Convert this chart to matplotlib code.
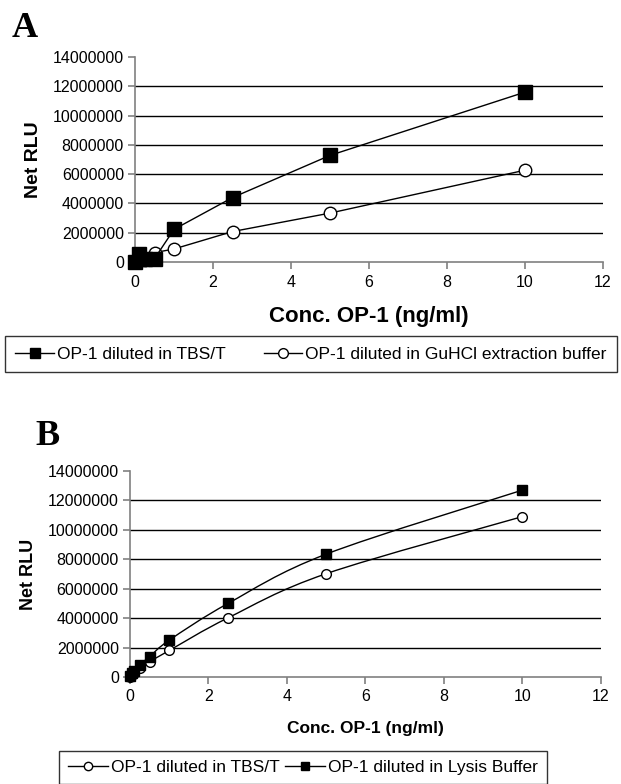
import matplotlib.pyplot as plt
import numpy as np
from matplotlib.lines import Line2D
from matplotlib.path import Path
from matplotlib.patches import PathPatch
from matplotlib.ticker import FuncFormatter

plt.rcParams['font.family'] = ['Liberation Sans', 'DejaVu Sans']

# panel A data
conc_a = [0, 0.1, 0.25, 0.5, 1, 2.5, 5, 10]
tbs_a = [0, 520000, 180000, 230000, 2230000, 4400000, 7280000, 11600000]
guhcl_a = [0, 50000, 150000, 640000, 890000, 2080000, 3340000, 6270000]

# panel B data
conc_b = [0, 0.05, 0.1, 0.25, 0.5, 1, 2.5, 5, 10]
tbs_b = [0, 120000, 250000, 600000, 1030000, 1800000, 4020000, 7020000, 10900000]
lysis_b = [80000, 250000, 400000, 830000, 1380000, 2500000, 5000000, 8350000, 12700000]

legend_a = ['OP-1 diluted in TBS/T', 'OP-1 diluted in GuHCl extraction buffer']
legend_b = ['OP-1 diluted in TBS/T', 'OP-1 diluted in Lysis Buffer']

fig = plt.figure(figsize=(6.21, 7.84), dpi=100)
ax_a = fig.add_axes([0.2174, 0.6658, 0.7536, 0.2615])
ax_b = fig.add_axes([0.2093, 0.1365, 0.7585, 0.2628])

grey = '#808080'


def style_axes(ax):
    ax.set_xlim(0, 12)
    ax.set_ylim(0, 14000000)
    ax.set_xticks(range(0, 13, 2))
    ax.set_yticks(range(0, 14000001, 2000000))
    ax.yaxis.set_major_formatter(FuncFormatter(lambda v, p: '%d' % v))
    for s in ['top', 'right']:
        ax.spines[s].set_visible(False)
    for s in ['left', 'bottom']:
        ax.spines[s].set_color(grey)
        ax.spines[s].set_linewidth(1.2)
    ax.tick_params(direction='out', length=5, width=1.2, color=grey,
                   labelsize=11.5, pad=3)
    ax.tick_params(axis='x', pad=4)
    for yv in range(2000000, 14000000, 2000000):
        ax.axhline(yv, color='black', lw=1, zorder=1)


def smooth_line(ax, xs, ys):
    # Excel-style smoothed curve: cubic bezier through the points
    pts = np.column_stack([xs, ys]).astype(float)
    verts = [tuple(pts[0])]
    codes = [Path.MOVETO]
    n = len(pts)
    for i in range(n - 1):
        p0 = pts[max(i - 1, 0)]
        p1 = pts[i]
        p2 = pts[i + 1]
        p3 = pts[min(i + 2, n - 1)]
        c1 = p1 + (p2 - p0) / 6
        c2 = p2 - (p3 - p1) / 6
        verts += [tuple(c1), tuple(c2), tuple(p2)]
        codes += [Path.CURVE4] * 3
    ax.add_patch(PathPatch(Path(verts, codes), fill=False, lw=1,
                           color='black', zorder=2, clip_on=False))


# Panel A
style_axes(ax_a)
ax_a.plot(conc_a, guhcl_a, color='black', lw=1, marker='o', ms=9,
          mfc='white', mec='black', clip_on=False, zorder=3)
ax_a.plot(conc_a, tbs_a, color='black', lw=1, marker='s', ms=9.5,
          mfc='black', mec='black', clip_on=False, zorder=4)
ax_a.set_xlabel('Conc. OP-1 (ng/ml)', fontsize=16, fontweight='bold', labelpad=12)
ax_a.set_ylabel('Net RLU', fontsize=14, fontweight='bold', labelpad=8)

h_a = [Line2D([], [], color='black', lw=1, marker='s', ms=7, mfc='black', mec='black'),
       Line2D([], [], color='black', lw=1, marker='o', ms=7, mfc='white', mec='black')]
leg_a = fig.legend(h_a, legend_a, loc='lower left', ncol=2, mode='expand',
                   bbox_to_anchor=(5 / 621, 1 - 372 / 784, 612 / 621, 37 / 784),
                   frameon=True, fancybox=False, edgecolor='black', fontsize=12.5,
                   handlelength=2.2, handletextpad=0.2, columnspacing=0.8,
                   borderpad=0.6, borderaxespad=0)
leg_a.get_frame().set_linewidth(1)

# Panel B
style_axes(ax_b)
smooth_line(ax_b, conc_b, tbs_b)
smooth_line(ax_b, conc_b, lysis_b)
ax_b.plot(conc_b, tbs_b, linestyle='none', marker='o', ms=7,
          mfc='white', mec='black', clip_on=False, zorder=3)
ax_b.plot(conc_b, lysis_b, linestyle='none', marker='s', ms=7,
          mfc='black', mec='black', clip_on=False, zorder=4)
ax_b.set_xlabel('Conc. OP-1 (ng/ml)', fontsize=12.5, fontweight='bold', labelpad=12)
ax_b.set_ylabel('Net RLU', fontsize=13, fontweight='bold', labelpad=8)

h_b = [Line2D([], [], color='black', lw=1, marker='o', ms=6, mfc='white', mec='black'),
       Line2D([], [], color='black', lw=1, marker='s', ms=6, mfc='black', mec='black')]
leg_b = fig.legend(h_b, legend_b, loc='upper left', ncol=2,
                   bbox_to_anchor=(59 / 621, 1 - 751 / 784),
                   frameon=True, fancybox=False, edgecolor='black', fontsize=12.5,
                   handlelength=2.3, handletextpad=0.2, columnspacing=0.3,
                   borderpad=0.5, borderaxespad=0)
leg_b.get_frame().set_linewidth(1)

fig.text(12 / 621, 1 - 37 / 784, 'A', fontsize=26, fontweight='bold',
         family='Liberation Serif')
fig.text(35 / 621, 1 - 445 / 784, 'B', fontsize=26, fontweight='bold',
         family='Liberation Serif')

fig.savefig('out.png', dpi=100)
